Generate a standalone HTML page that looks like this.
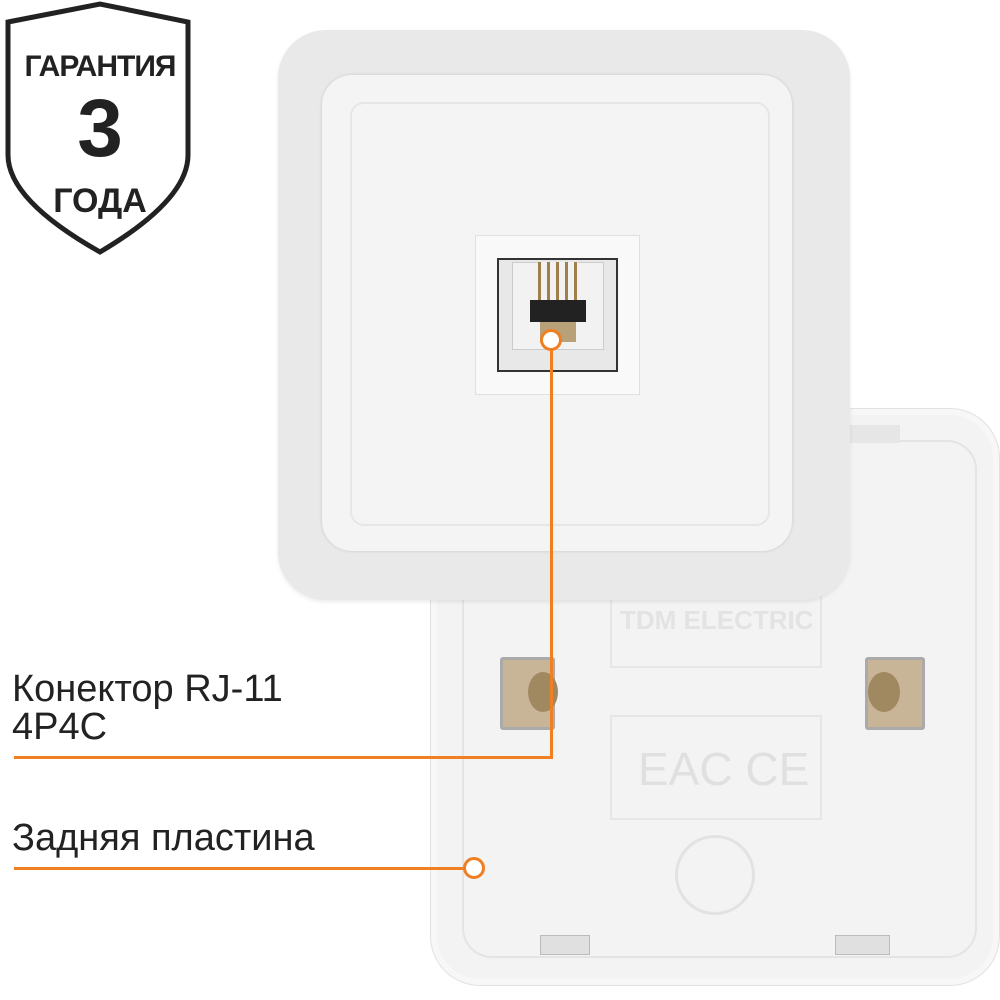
<!DOCTYPE html>
<html><head><meta charset="utf-8"><style>
html,body{margin:0;padding:0;background:#fff;width:1000px;height:1000px;overflow:hidden;position:relative;font-family:"Liberation Sans",sans-serif}
.a{position:absolute;box-sizing:border-box}
</style></head><body>
<!-- back plate -->
<div class="a" style="left:430px;top:408px;width:570px;height:578px;background:#f3f3f3;border-radius:50px;border:1px solid #e2e2e2;box-shadow:inset 0 0 0 6px #f7f7f7"></div>
<div class="a" style="left:462px;top:440px;width:515px;height:518px;border:2px solid #e4e4e4;border-radius:30px"></div>
<div class="a" style="left:850px;top:425px;width:50px;height:18px;background:#e6e6e6"></div>
<div class="a" style="left:610px;top:590px;width:212px;height:78px;border:2px solid #e6e6e6"></div>
<div class="a" style="left:620px;top:605px;color:#e3e3e3;font-weight:bold;font-size:26px">TDM ELECTRIC</div>
<div class="a" style="left:610px;top:715px;width:212px;height:105px;border:2px solid #e6e6e6"></div>
<div class="a" style="left:638px;top:742px;color:#e0e0e0;font-size:46px">EAC CE</div>
<div class="a" style="left:675px;top:835px;width:80px;height:80px;border:3px solid #e2e2e2;border-radius:50%"></div>
<div class="a" style="left:500px;top:657px;width:55px;height:73px;background:#c8b496;border:3px solid #aaa;border-radius:3px"></div>
<div class="a" style="left:528px;top:672px;width:30px;height:40px;background:#a08860;border-radius:50%"></div>
<div class="a" style="left:865px;top:657px;width:60px;height:73px;background:#c8b496;border:3px solid #aaa;border-radius:3px"></div>
<div class="a" style="left:868px;top:672px;width:32px;height:40px;background:#a08860;border-radius:50%"></div>
<div class="a" style="left:540px;top:935px;width:50px;height:20px;background:#e0e0e0;border:1px solid #bbb"></div>
<div class="a" style="left:835px;top:935px;width:55px;height:20px;background:#e0e0e0;border:1px solid #bbb"></div>
<!-- front plate -->
<div class="a" style="left:278px;top:30px;width:572px;height:570px;background:#e9e9e9;border-radius:48px;box-shadow:0 2px 4px rgba(0,0,0,.08)"></div>
<div class="a" style="left:322px;top:75px;width:470px;height:476px;background:#f4f4f4;border-radius:30px;box-shadow:0 0 3px rgba(0,0,0,.15)"></div>
<div class="a" style="left:350px;top:102px;width:420px;height:424px;border:2px solid #e6e6e6;border-radius:14px"></div>
<div class="a" style="left:475px;top:235px;width:165px;height:160px;background:#f9f9f9;border:1px solid #e0e0e0"></div>
<div class="a" style="left:497px;top:258px;width:121px;height:114px;background:#e8e8e8;border:2px solid #333"></div>
<div class="a" style="left:512px;top:262px;width:92px;height:88px;background:#f2f2f2;border:1px solid #ccc"></div>
<div class="a" style="left:538px;top:262px;width:40px;height:40px;background:repeating-linear-gradient(90deg,#a0804a 0 3px,#f2f2f2 3px 9px)"></div>
<div class="a" style="left:530px;top:300px;width:56px;height:22px;background:#222"></div>
<div class="a" style="left:540px;top:322px;width:36px;height:20px;background:#b8a078"></div>
<!-- badge -->
<svg class="a" style="left:0;top:0" width="200" height="260"><path d="M8 22 L100 4 L188 22 L188 155 Q188 200 100 252 Q8 200 8 155 Z" fill="#fff" stroke="#222" stroke-width="5"/></svg>
<div class="a" style="left:12px;top:50px;width:176px;text-align:center;font-weight:bold;font-size:30px;color:#222;letter-spacing:-1px">ГАРАНТИЯ</div>
<div class="a" style="left:12px;top:82px;width:176px;text-align:center;font-weight:bold;font-size:82px;color:#222">3</div>
<div class="a" style="left:12px;top:182px;width:176px;text-align:center;font-weight:bold;font-size:34px;color:#222">ГОДА</div>
<!-- callouts -->
<div class="a" style="left:550px;top:339px;width:3px;height:420px;background:#f07f22"></div>
<div class="a" style="left:14px;top:756px;width:539px;height:3px;background:#f07f22"></div>
<div class="a" style="left:14px;top:867px;width:460px;height:3px;background:#f07f22"></div>
<div class="a" style="left:540px;top:329px;width:22px;height:22px;background:#fff;border:3px solid #f07f22;border-radius:50%"></div>
<div class="a" style="left:463px;top:857px;width:22px;height:22px;background:#fff;border:3px solid #f07f22;border-radius:50%"></div>
<div class="a" style="left:12px;top:670px;font-size:38px;color:#222;line-height:38px">Конектор RJ-11<br>4P4C</div>
<div class="a" style="left:12px;top:816px;font-size:38px;color:#222;line-height:44px">Задняя пластина</div>
</body></html>
